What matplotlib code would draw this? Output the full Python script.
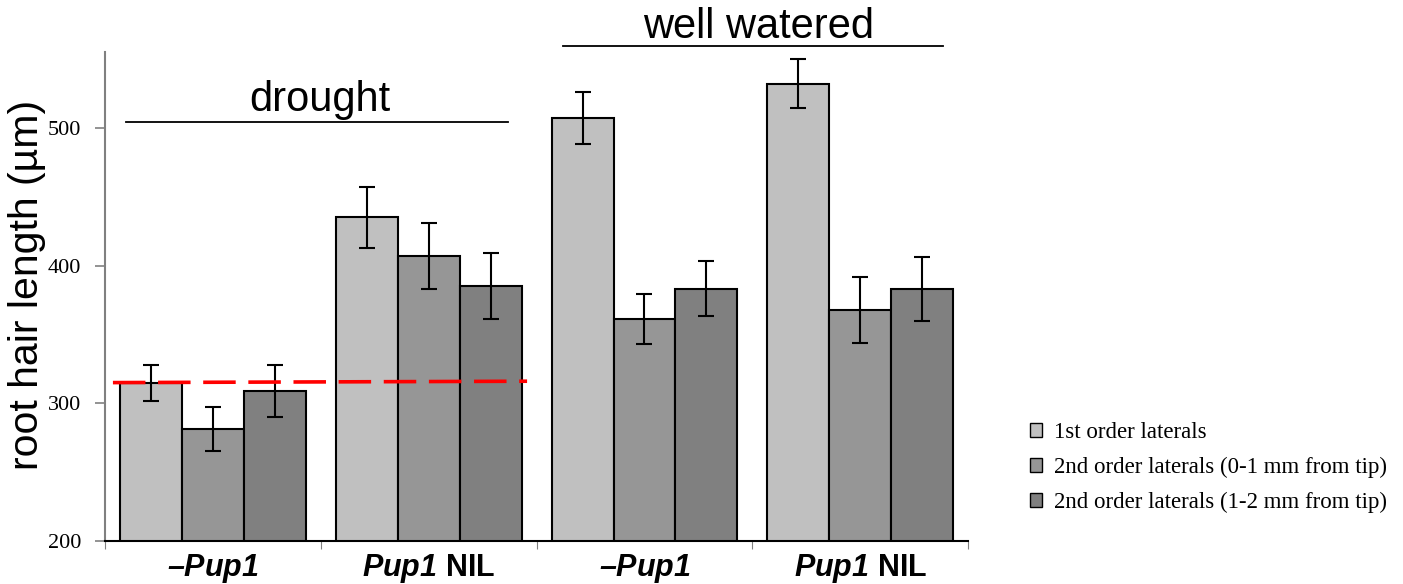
import numpy as np
import matplotlib.pyplot as plt
from matplotlib.patches import Patch

plt.rcParams['mathtext.fontset'] = 'custom'
plt.rcParams['mathtext.it'] = 'Liberation Sans:italic:bold'
plt.rcParams['mathtext.rm'] = 'Liberation Sans:italic:bold'

groups = ['$\\mathrm{\u2013Pup1}$', '$\\mathrm{Pup1}$ NIL', '$\\mathrm{\u2013Pup1}$', '$\\mathrm{Pup1}$ NIL']
series = ['1st order laterals',
          '2nd order laterals (0-1 mm from tip)',
          '2nd order laterals (1-2 mm from tip)']
first_order = [315, 435, 507, 532]
second_01 = [281, 407, 361, 368]
second_12 = [309, 385, 383, 383]
err_first = [13, 22, 19, 18]
err_01 = [16, 24, 18, 24]
err_12 = [19, 24, 20, 23]
threshold = 315
colors = ['#c0c0c0', '#969696', '#808080']

values = [first_order, second_01, second_12]
errors = [err_first, err_01, err_12]

fig = plt.figure(figsize=(14.03, 5.84), dpi=100)
ax = fig.add_axes([0.0748, 0.0736, 0.6153, 0.8374])

x = np.arange(len(groups))
w = 0.287
for i in range(3):
    ax.bar(x + (i - 1) * w, values[i], w, bottom=0, color=colors[i],
           edgecolor='black', linewidth=1.5, zorder=2)
    ax.errorbar(x + (i - 1) * w, values[i], yerr=errors[i], fmt='none',
                ecolor='black', elinewidth=1.5, capsize=6, capthick=1.5, zorder=3)

ax.plot([-0.463, 1.456], [threshold, threshold + 1], color='red', lw=2.6,
        linestyle=(0, (9, 3.5)), zorder=4)

ax.set_xlim(-0.5, 3.5)
ax.set_ylim(200, 555)
ax.set_yticks([200, 300, 400, 500])
ax.set_yticklabels(['200', '300', '400', '500'], fontfamily='Liberation Serif', fontsize=16)
ax.set_xticks([-0.5, 0.5, 1.5, 2.5, 3.5])
ax.set_xticklabels([])
ax.set_xticks(x, minor=True)
ax.set_xticklabels(groups, minor=True, fontfamily='Liberation Sans',
                   fontweight='bold', fontsize=22)
ax.tick_params(axis='x', which='minor', length=0, pad=8)
ax.tick_params(axis='x', which='major', length=6, color='#808080')
ax.tick_params(axis='y', length=7, color='#808080', width=1.2, pad=10)

for s in ['top', 'right']:
    ax.spines[s].set_visible(False)
ax.spines['left'].set_color('#808080')
ax.spines['left'].set_linewidth(1.5)
ax.spines['bottom'].set_color('black')
ax.spines['bottom'].set_linewidth(1.5)

ax.set_ylabel('root hair length (µm)', fontfamily='Liberation Sans', fontsize=29.5)
ax.yaxis.set_label_coords(-0.068, 0.523)

ax.plot([-0.403, 1.368], [504.5, 504.5], color='black', lw=1.3, clip_on=False)
ax.text(0.497, 512.5, 'drought', ha='center', va='baseline',
        fontfamily='Liberation Sans', fontsize=30)
ax.plot([1.623, 3.384], [559, 559], color='black', lw=1.3, clip_on=False)
ax.text(2.527, 565, 'well watered', ha='center', va='baseline',
        fontfamily='Liberation Sans', fontsize=30, clip_on=False)

handles = [Patch(facecolor=c, edgecolor='black', linewidth=1) for c in colors]
fig.legend(handles, series, loc='upper left', bbox_to_anchor=(0.7275, 0.293),
           frameon=False, prop={'family': 'Liberation Serif', 'size': 16.5},
           handlelength=0.55, handleheight=0.55, handletextpad=0.5, labelspacing=0.6,
           borderaxespad=0)

fig.savefig('out.png', dpi=100)
